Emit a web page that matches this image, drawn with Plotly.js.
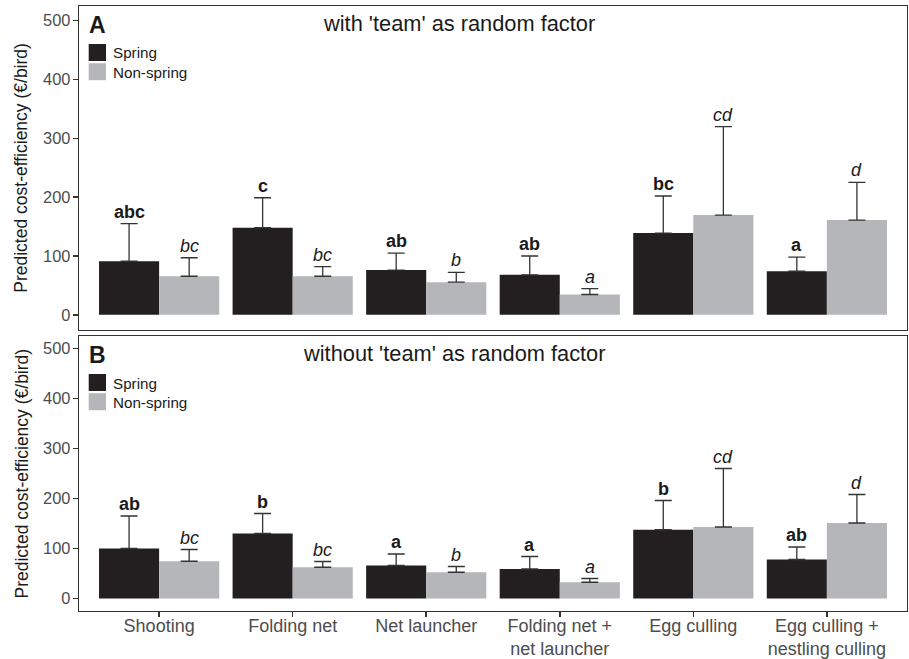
<!DOCTYPE html>
<html>
<head>
<meta charset="utf-8">
<script src="https://cdn.plot.ly/plotly-3.0.1.min.js"></script>
<style>
  html, body { margin: 0; padding: 0; background: #ffffff; }
  #chart { width: 909px; height: 659px; }
</style>
</head>
<body>
<div id="chart"></div>
<script>
// Control methods
const categories = ['Shooting', 'Folding net', 'Net launcher',
  'Folding net +<br>net launcher', 'Egg culling', 'Egg culling +<br>nestling culling'];

// Panel A: model with 'team' as random factor (mean and upper CI)
const springMeanA = [91, 148, 76, 68, 139, 74];
const springUpperA = [155, 199, 105, 100, 202, 98];
const nonSpringMeanA = [65.5, 65.5, 55.5, 34.5, 169.5, 161];
const nonSpringUpperA = [97, 82, 72, 44.5, 320, 225];
const springLettersA = ['abc', 'c', 'ab', 'ab', 'bc', 'a'];
const nonSpringLettersA = ['bc', 'bc', 'b', 'a', 'cd', 'd'];

// Panel B: model without 'team' as random factor
const springMeanB = [100, 130, 66, 59, 137.5, 78];
const springUpperB = [165, 170, 89, 84, 196, 103];
const nonSpringMeanB = [74.5, 62.5, 52.5, 32.5, 143, 151];
const nonSpringUpperB = [98, 74, 64, 40, 260, 208];
const springLettersB = ['ab', 'b', 'a', 'a', 'b', 'ab'];
const nonSpringLettersB = ['bc', 'bc', 'b', 'a', 'cd', 'd'];

const yTicks = [0, 100, 200, 300, 400, 500];

const SPRING = '#231f20';
const NONSPRING = '#b5b6ba';
const FONT = '"Liberation Sans", Arial, sans-serif';

const W = 909, H = 659;
const M = { l: 79, r: 2, t: 6, b: 48 };
const PW = W - M.l - M.r, PH = H - M.t - M.b;
const px = x => (x - M.l) / PW;          // pixel x -> paper
const py = y => (H - M.b - y) / PH;      // pixel y -> paper

const domA = [py(329.5), 1];
const domB = [0, py(336)];

function bars(mean, upper, name, color, xa, ya) {
  return {
    type: 'bar', x: categories, y: mean, name: name, xaxis: xa, yaxis: ya,
    marker: { color: color, line: { width: 0 } },
    showlegend: false, hoverinfo: 'skip',
    error_y: {
      type: 'data', symmetric: false,
      array: upper.map((u, i) => u - mean[i]),
      arrayminus: mean.map(() => 0),
      color: '#333333', thickness: 1.3, width: 8.5
    }
  };
}

const data = [
  bars(springMeanA, springUpperA, 'Spring', SPRING, 'x2', 'y2'),
  bars(nonSpringMeanA, nonSpringUpperA, 'Non-spring', NONSPRING, 'x2', 'y2'),
  bars(springMeanB, springUpperB, 'Spring', SPRING, 'x', 'y'),
  bars(nonSpringMeanB, nonSpringUpperB, 'Non-spring', NONSPRING, 'x', 'y')
];

// Significance letters above each error bar
const annotations = [];
function letters(labels, upper, offset, bold, xref, yref) {
  labels.forEach((t, i) => {
    annotations.push({
      xref: xref, yref: yref, x: i + offset, y: upper[i],
      text: t, showarrow: false, yanchor: 'bottom', xanchor: 'center', yshift: 0,
      font: { family: FONT, size: 18, color: '#1a1a1a',
              weight: bold ? 'bold' : 'normal', style: bold ? 'normal' : 'italic' }
    });
  });
}
letters(springLettersA, springUpperA, -0.225, true, 'x2', 'y2');
letters(nonSpringLettersA, nonSpringUpperA, 0.225, false, 'x2', 'y2');
letters(springLettersB, springUpperB, -0.225, true, 'x', 'y');
letters(nonSpringLettersB, nonSpringUpperB, 0.225, false, 'x', 'y');

// Panel headings, panel letters, y titles and legends
const shapes = [];
function panelDecor(top, bottom, letter, heading, headingLeft) {
  annotations.push({
    xref: 'paper', yref: 'paper', x: px(87), y: py(top + 19), xanchor: 'left', yanchor: 'middle',
    text: letter, showarrow: false,
    font: { family: FONT, size: 23, color: '#1a1a1a', weight: 'bold' }
  });
  annotations.push({
    xref: 'paper', yref: 'paper', x: px(headingLeft - 2), y: py(top + 17), xanchor: 'left', yanchor: 'middle',
    text: heading, showarrow: false,
    font: { family: FONT, size: 21.8, color: '#1a1a1a' }
  });
  annotations.push({
    xref: 'paper', yref: 'paper', x: px(21), y: py((top + bottom) / 2), xanchor: 'center', yanchor: 'middle',
    text: 'Predicted cost-efficiency (€/bird)', textangle: -90, showarrow: false,
    font: { family: FONT, size: 17.5, color: '#1a1a1a' }
  });
  [['Spring', SPRING, 0], ['Non-spring', NONSPRING, 19.2]].forEach(([lab, col, dy]) => {
    shapes.push({
      type: 'rect', xref: 'paper', yref: 'paper', line: { width: 0 }, fillcolor: col,
      x0: px(88.7), x1: px(106), y0: py(top + 38 + dy), y1: py(top + 55 + dy)
    });
    annotations.push({
      xref: 'paper', yref: 'paper', x: px(111), y: py(top + 47 + dy), xanchor: 'left', yanchor: 'middle',
      text: lab, showarrow: false,
      font: { family: FONT, size: 15.2, color: '#1a1a1a' }
    });
  });
}
panelDecor(6, 329.5, 'A', "with 'team' as random factor", 323);
panelDecor(336, 611, 'B', "without 'team' as random factor", 302.7);

function yAxis(domain, anchor) {
  return {
    domain: domain, anchor: anchor,
    range: [-25, 525], tickmode: 'array', tickvals: yTicks, ticktext: yTicks.map(String),
    showgrid: false, zeroline: false, showline: true, mirror: true,
    linecolor: '#333333', linewidth: 1.3,
    ticks: 'outside', ticklen: 5, tickwidth: 1.5, tickcolor: '#333333',
    ticklabelstandoff: -1,
    tickfont: { family: FONT, size: 16.4, color: '#4d4d4d' }
  };
}
function xAxis(extra) {
  return Object.assign({
    type: 'category', range: [-0.6, 5.6],
    showgrid: false, zeroline: false, showline: true, mirror: true,
    linecolor: '#333333', linewidth: 1.3
  }, extra);
}

const layout = {
  width: W, height: H,
  margin: M,
  paper_bgcolor: '#ffffff', plot_bgcolor: '#ffffff',
  barmode: 'group', bargap: 0.1, bargroupgap: 0,
  showlegend: false,
  font: { family: FONT, size: 16 },
  xaxis: xAxis({
    anchor: 'y', ticks: 'outside', ticklen: 5, tickwidth: 1.5, tickcolor: '#333333',
    ticklabelstandoff: -7,
    tickfont: { family: FONT, size: 18, color: '#4d4d4d' }
  }),
  yaxis: yAxis(domB, 'x'),
  xaxis2: xAxis({ anchor: 'y2', matches: 'x', showticklabels: false, ticks: '' }),
  yaxis2: yAxis(domA, 'x2'),
  annotations: annotations,
  shapes: shapes
};

Plotly.newPlot('chart', data, layout, { displayModeBar: false, staticPlot: true });
</script>
</body>
</html>
